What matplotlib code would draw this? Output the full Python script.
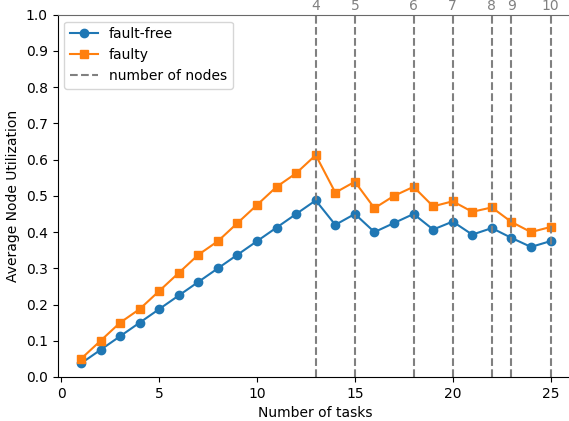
import matplotlib
matplotlib.use("Agg")
import matplotlib.pyplot as plt

# --- data ---
tareas = list(range(1, 26))
fault_free = [0.0375, 0.075, 0.1125, 0.15, 0.1875, 0.225, 0.2625, 0.30, 0.3375, 0.375,
              0.4125, 0.45, 0.4875, 0.42, 0.45, 0.40, 0.425, 0.45, 0.407, 0.429,
              0.393, 0.411, 0.384, 0.359, 0.375]
faulty = [0.05, 0.10, 0.15, 0.1875, 0.2375, 0.2875, 0.3375, 0.375, 0.425, 0.475,
          0.525, 0.5625, 0.6125, 0.509, 0.539, 0.466, 0.50, 0.525, 0.471, 0.485,
          0.456, 0.468, 0.428, 0.40, 0.414]
nodos_x = [13, 15, 18, 20, 22, 23, 25]
nodos_lbl = ['4', '5', '6', '7', '8', '9', '10']

fig = plt.figure(figsize=(5.69, 4.21), dpi=100)
ax = fig.add_axes([57.5 / 569, 44 / 421, 516.5 / 569, 362.3 / 421])

ax.plot(tareas, fault_free, marker='o', color='#1f77b4', label='fault-free')
ax.plot(tareas, faulty, marker='s', color='#ff7f0e', label='faulty')
for i, xv in enumerate(nodos_x):
    ax.axvline(xv, color='gray', linestyle='--', linewidth=1.5,
               label='number of nodes' if i == 0 else None)

ax.set_xlim(-0.2, 26.2)
ax.set_ylim(0, 1.0)
ax.set_yticks([i / 10 for i in range(11)])
ax.set_xlabel('Number of tasks')
ax.set_ylabel('Average Node Utilization')
ax.spines['right'].set_visible(False)
ax.spines['top'].set_visible(False)
ax.legend(loc='upper left')

# eje superior con el número de nodos
ax_top = ax.twiny()
ax_top.set_xlim(ax.get_xlim())
ax_top.set_xticks(nodos_x)
ax_top.set_xticklabels(nodos_lbl)
ax_top.tick_params(axis='x', colors='gray', length=0, pad=1)
ax_top.spines['right'].set_visible(False)
ax_top.spines['left'].set_visible(False)
ax_top.spines['bottom'].set_visible(False)
ax_top.spines['top'].set_color('dimgray')

fig.savefig('out.png', dpi=100)
